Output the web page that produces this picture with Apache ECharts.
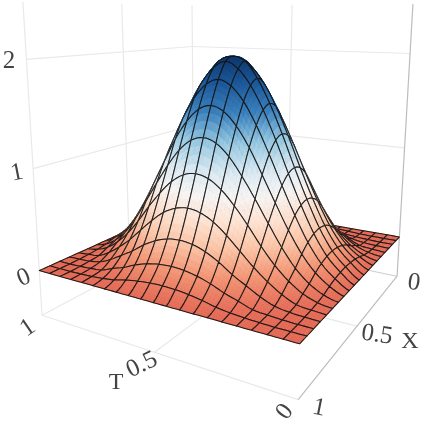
<!DOCTYPE html>
<html><head><meta charset="utf-8"><style>html,body{margin:0;background:#fff}#c{width:423px;height:423px}</style>
<script src="https://cdn.jsdelivr.net/npm/echarts@6/dist/echarts.min.js"></script></head><body><div id="c"></div><script>
const xTicks=[0,.5,1],tTicks=[0,.5,1],zTicks=[0,1,2];
const Z=[
[0,0,0,0,0,0,0,0,0,0,0,0,0,0,0,0,0,0,0,0,0],
[0,0,0,.004,.009,.019,.035,.063,.083,.096,.1,.096,.083,.063,.035,.019,.009,.004,0,0,0],
[0,0,.004,.012,.024,.067,.107,.159,.198,.222,.23,.222,.198,.159,.107,.067,.024,.012,.004,0,0],
[0,.004,.012,.032,.083,.152,.222,.307,.374,.416,.43,.416,.374,.307,.222,.152,.083,.032,.012,.004,0],
[0,.009,.024,.083,.167,.268,.388,.506,.606,.668,.69,.668,.606,.506,.388,.268,.167,.083,.024,.009,0],
[0,.019,.067,.152,.268,.416,.585,.739,.868,.951,.98,.951,.868,.739,.585,.416,.268,.152,.067,.019,0],
[0,.035,.107,.222,.388,.585,.789,.98,1.144,1.252,1.29,1.252,1.144,.98,.789,.585,.388,.222,.107,.035,0],
[0,.063,.159,.307,.506,.739,.98,1.215,1.4,1.525,1.57,1.525,1.4,1.215,.98,.739,.506,.307,.159,.063,0],
[0,.083,.198,.374,.606,.868,1.144,1.4,1.61,1.746,1.8,1.746,1.61,1.4,1.144,.868,.606,.374,.198,.083,0],
[0,.096,.222,.416,.668,.951,1.252,1.525,1.746,1.894,1.96,1.894,1.746,1.525,1.252,.951,.668,.416,.222,.096,0],
[0,.1,.23,.43,.69,.98,1.29,1.57,1.8,1.96,2,1.96,1.8,1.57,1.29,.98,.69,.43,.23,.1,0],
[0,.096,.222,.416,.668,.951,1.252,1.525,1.746,1.894,1.96,1.894,1.746,1.525,1.252,.951,.668,.416,.222,.096,0],
[0,.083,.198,.374,.606,.868,1.144,1.4,1.61,1.746,1.8,1.746,1.61,1.4,1.144,.868,.606,.374,.198,.083,0],
[0,.063,.159,.307,.506,.739,.98,1.215,1.4,1.525,1.57,1.525,1.4,1.215,.98,.739,.506,.307,.159,.063,0],
[0,.035,.107,.222,.388,.585,.789,.98,1.144,1.252,1.29,1.252,1.144,.98,.789,.585,.388,.222,.107,.035,0],
[0,.019,.067,.152,.268,.416,.585,.739,.868,.951,.98,.951,.868,.739,.585,.416,.268,.152,.067,.019,0],
[0,.009,.024,.083,.167,.268,.388,.506,.606,.668,.69,.668,.606,.506,.388,.268,.167,.083,.024,.009,0],
[0,.004,.012,.032,.083,.152,.222,.307,.374,.416,.43,.416,.374,.307,.222,.152,.083,.032,.012,.004,0],
[0,0,.004,.012,.024,.067,.107,.159,.198,.222,.23,.222,.198,.159,.107,.067,.024,.012,.004,0,0],
[0,0,0,.004,.009,.019,.035,.063,.083,.096,.1,.096,.083,.063,.035,.019,.009,.004,0,0,0],
[0,0,0,0,0,0,0,0,0,0,0,0,0,0,0,0,0,0,0,0,0]];
const zMin=-0.46,zMax=2.5;
const cal=[[0,0,0,400,237],[1,0,0,300,340],[1,1,0,40,270],[1,1,1,33,168],[1,1,2,26,59],[0,0,1,404,147],[0,0,2,410,53],[0,1,2,193,48],[1,1,zMin,43,318],[0,0,zMin,397,279],[1,0,zMin,297,399],[0,1,zMin,193,231],[1,1,zMax,22,2],[0,0,zMax,413,4],[.5,1,2,123,52],[0,.5,2,292,50],[1,.5,zMin,155,354],[.5,0,zMin,357,327]];
function solve(){const n=11,A=Array.from({length:n},()=>Array(n+1).fill(0));
 const add=(r,y)=>{for(let i=0;i<n;i++){for(let j=0;j<n;j++)A[i][j]+=r[i]*r[j];A[i][n]+=r[i]*y}};
 cal.forEach(([x,t,z,u,v])=>{add([x,t,z,1,0,0,0,0,-u*x,-u*t,-u*z],u);add([0,0,0,0,x,t,z,1,-v*x,-v*t,-v*z],v)});
 for(let i=0;i<n;i++){let p=i;for(let k=i;k<n;k++)if(Math.abs(A[k][i])>Math.abs(A[p][i]))p=k;[A[i],A[p]]=[A[p],A[i]];
  for(let k=0;k<n;k++)if(k!==i){const f=A[k][i]/A[i][i];for(let j=i;j<=n;j++)A[k][j]-=f*A[i][j]}}
 return A.map((r,i)=>r[n]/r[i]);}
const M=solve();
function proj(x,t,z){const w=M[8]*x+M[9]*t+M[10]*z+1;return[(M[0]*x+M[1]*t+M[2]*z+M[3])/w,(M[4]*x+M[5]*t+M[6]*z+M[7])/w]}
const stops=[[0,[227,104,84]],[.2,[242,148,115]],[.4,[250,195,165]],[.6,[253,225,208]],[.8,[247,245,244]],[1,[218,233,242]],[1.25,[150,200,225]],[1.5,[60,130,190]],[1.75,[30,90,155]],[2,[12,55,110]],[2.1,[8,45,95]]];
function col(z){z=Math.max(0,Math.min(2.1,z));let i=0;while(i<stops.length-2&&z>stops[i+1][0])i++;const a=stops[i],b=stops[i+1],f=(z-a[0])/(b[0]-a[0]);return'rgb('+a[1].map((c,k)=>Math.round(c+(b[1][k]-c)*f)).join(',')+')'}
const N=Z.length-1,SUB=4;
const cr=(a,b,c,d,s)=>b+.5*s*(c-a+s*(2*a-5*b+4*c-d+s*(3*(b-c)+d-a)));
const g=(i,j)=>Z[Math.max(0,Math.min(N,i))][Math.max(0,Math.min(N,j))];
function zAt(i,j,u,v){const r=[-1,0,1,2].map(d=>cr(g(i+d,j-1),g(i+d,j),g(i+d,j+1),g(i+d,j+2),v));return Math.max(0,cr(r[0],r[1],r[2],r[3],u))}
const quads=[];for(let i=0;i<N;i++)for(let j=N-1;j>=0;j--)quads.push([i,j]);
const light='#e9e9e9',dark='#bdbdbd';
const walls=[[[.5,1,zMin],[.5,0,zMin],light],[[1,.5,zMin],[0,.5,zMin],light],[[1,1,1],[0,1,1],light],[[1,1,2],[0,1,2],light],[[0,1,1],[0,0,1],light],[[0,1,2],[0,0,2],light],[[.5,1,zMin],[.5,1,zMax],light],[[0,.5,zMin],[0,.5,zMax],light],[[0,1,zMin],[0,1,zMax],light],[[1,1,zMin],[1,1,zMax],light],[[1,1,zMin],[0,1,zMin],light],[[1,1,zMin],[1,0,zMin],light],[[0,1,zMin],[0,0,zMin],'#cfcfcf'],[[0,0,zMin],[0,0,zMax],dark],[[1,0,zMin],[0,0,zMin],dark]];
const labels=[['2',9,61,0,25],['1',17,173,.2,25],['0',24,278,.4,25],['1',28,328,.6,25],['0.5',142,365,.45,25],['T',116,383,0,24],['0',285,412,.9,25],['1',319,408,-.2,25],['0.5',377,335,-.15,25],['X',410,342,0,24],['0',414,283,-.15,25]];
const chart=echarts.init(document.getElementById('c'),null,{renderer:'canvas'});
chart.setOption({animation:false,grid:{left:0,top:0,right:0,bottom:0},
 xAxis:{type:'value',min:0,max:423,show:false},yAxis:{type:'value',min:0,max:423,inverse:true,show:false},
 series:[
 {type:'custom',silent:true,clip:false,data:walls.map((w,i)=>[i]),encode:{x:0},renderItem:(p,api)=>{const w=walls[api.value(0)];
   const a=api.coord(proj(...w[0])),b=api.coord(proj(...w[1]));return{type:'line',shape:{x1:a[0],y1:a[1],x2:b[0],y2:b[1]},style:{stroke:w[2],lineWidth:1.2}}}},
 {type:'custom',silent:true,clip:false,data:quads,encode:{x:0,y:1},renderItem:(p,api)=>{const i=api.value(0),j=api.value(1),children=[];
   const pt=(a,b)=>{const u=a/SUB,v=b/SUB,z=zAt(i,j,u,v);return[api.coord(proj((i+u)/N,(j+v)/N,z)),z]};
   for(let a=0;a<SUB;a++)for(let b=0;b<SUB;b++){const c=[pt(a,b),pt(a+1,b),pt(a+1,b+1),pt(a,b+1)];
     const f=col((c[0][1]+c[1][1]+c[2][1]+c[3][1])/4);children.push({type:'polygon',shape:{points:c.map(q=>q[0])},style:{fill:f,stroke:f,lineWidth:.6}})}
   const o=[];for(let a=0;a<SUB;a++)o.push(pt(a,0)[0]);for(let b=0;b<SUB;b++)o.push(pt(SUB,b)[0]);for(let a=SUB;a>0;a--)o.push(pt(a,SUB)[0]);for(let b=SUB;b>0;b--)o.push(pt(0,b)[0]);
   children.push({type:'polygon',shape:{points:o},style:{fill:'none',stroke:'rgba(20,20,20,.95)',lineWidth:1.05,lineJoin:'round'}});
   return{type:'group',children}}},
 {type:'custom',silent:true,clip:false,data:labels.map((l,i)=>[i]),encode:{x:0},renderItem:(p,api)=>{const l=labels[api.value(0)],c=api.coord([l[1],l[2]]);
   return{type:'text',x:c[0],y:c[1],rotation:l[3],style:{text:l[0],fill:'#444',fontFamily:'Liberation Serif',fontSize:l[4],align:'center',verticalAlign:'middle'}}}}
 ]});
</script></body></html>
